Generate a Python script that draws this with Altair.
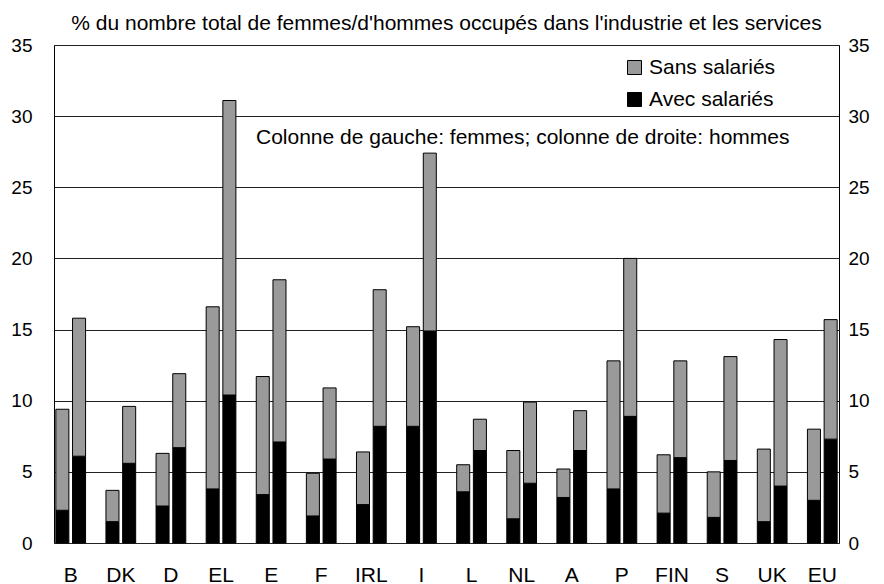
import altair as alt
import pandas as pd

countries = ["B", "DK", "D", "EL", "E", "F", "IRL", "I", "L", "NL", "A", "P", "FIN", "S", "UK", "EU"]
women_avec = [2.3, 1.5, 2.6, 3.8, 3.4, 1.9, 2.7, 8.2, 3.6, 1.7, 3.2, 3.8, 2.1, 1.8, 1.5, 3.0]
women_total = [9.4, 3.7, 6.3, 16.6, 11.7, 4.9, 6.4, 15.2, 5.5, 6.5, 5.2, 12.8, 6.2, 5.0, 6.6, 8.0]
men_avec = [6.1, 5.6, 6.7, 10.4, 7.1, 5.9, 8.2, 14.9, 6.5, 4.2, 6.5, 8.9, 6.0, 5.8, 4.0, 7.3]
men_total = [15.8, 9.6, 11.9, 31.1, 18.5, 10.9, 17.8, 27.4, 8.7, 9.9, 9.3, 20.0, 12.8, 13.1, 14.3, 15.7]
sexes = ["Femmes", "Hommes"]
types = ["Sans salariés", "Avec salariés"]
y_ticks = [0, 5, 10, 15, 20, 25, 30, 35]
subtitle = "% du nombre total de femmes/d'hommes occupés dans l'industrie et les services"
note_text = "Colonne de gauche: femmes; colonne de droite: hommes"

rows = []
for i, c in enumerate(countries):
    for sexe, avec, total in (("Femmes", women_avec[i], women_total[i]), ("Hommes", men_avec[i], men_total[i])):
        rows.append({"pays": c, "sexe": sexe, "type": "Avec salariés", "ordre": 0, "valeur": avec})
        rows.append({"pays": c, "sexe": sexe, "type": "Sans salariés", "ordre": 1, "valeur": round(total - avec, 2)})
df = pd.DataFrame(rows)

FONT = "Liberation Sans"

x_enc = alt.X("pays:N", sort=countries, title=None,
              scale=alt.Scale(paddingInner=1 / 3, paddingOuter=0),
              axis=alt.Axis(labelAngle=0, ticks=False, domain=False, labelPadding=21,
                            labelFontSize=21, labelFont=FONT, labelColor="black"))
xo_enc = alt.XOffset("sexe:N", sort=sexes,
                     scale=alt.Scale(paddingInner=0.22, paddingOuter=0.11))

bars = alt.Chart(df).mark_bar(stroke="black", strokeWidth=1).encode(
    x=x_enc,
    xOffset=xo_enc,
    y=alt.Y("valeur:Q", stack="zero", title=None,
            scale=alt.Scale(domain=[0, 35], nice=False),
            axis=alt.Axis(values=y_ticks, grid=True, gridColor="#222222", gridWidth=1,
                          ticks=False, domain=False, labelPadding=22, labelFontSize=19,
                          labelFont=FONT, labelColor="black", orient="left")),
    color=alt.Color("type:N", scale=alt.Scale(domain=types, range=["#9a9a9a", "black"]),
                    legend=alt.Legend(title=None, orient="none", legendX=570, legendY=12,
                                      symbolType="square", symbolSize=196,
                                      symbolStrokeColor="black", symbolStrokeWidth=1,
                                      labelFontSize=21, labelFont=FONT, labelColor="black",
                                      rowPadding=10, labelOffset=4)),
    order=alt.Order("ordre:Q"),
)

right_axis = alt.Chart(df).mark_bar(opacity=0).encode(
    x=x_enc,
    xOffset=xo_enc,
    y=alt.Y("valeur:Q", stack="zero", title=None,
            scale=alt.Scale(domain=[0, 35], nice=False),
            axis=alt.Axis(values=y_ticks, grid=False, ticks=False, domain=False,
                          labelPadding=9, labelFontSize=19, labelFont=FONT,
                          labelColor="black", orient="right")),
    order=alt.Order("ordre:Q"),
)

note = alt.Chart(pd.DataFrame({"t": [note_text]})).mark_text(
    align="left", baseline="middle", fontSize=21, font=FONT, color="black"
).encode(text="t:N", x=alt.value(202), y=alt.value(93))

title_txt = alt.Chart(pd.DataFrame({"t": [subtitle]})).mark_text(
    align="center", baseline="middle", fontSize=21, font=FONT, color="black"
).encode(text="t:N", x=alt.value(392.5), y=alt.value(-21))

chart = alt.layer(bars, right_axis, note, title_txt).resolve_scale(y="independent").properties(
    width=785, height=498,
    padding={"left": 46, "top": 37, "right": 37, "bottom": 41},
    autosize=alt.AutoSizeParams(type="none"),
).configure_view(stroke="black", strokeWidth=1)

chart.save("out.html", embed_options={"renderer": "svg", "actions": False})
